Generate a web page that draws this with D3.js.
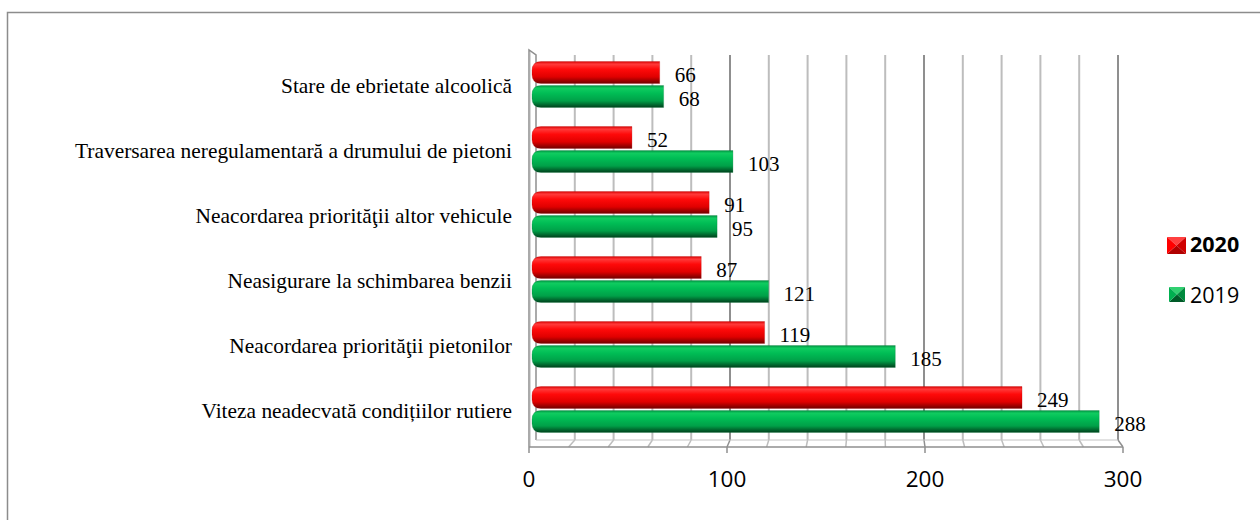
<!DOCTYPE html>
<html><head><meta charset="utf-8">
<script src="https://cdn.jsdelivr.net/npm/d3@7"></script>
<style>body{margin:0;background:#fff}svg{display:block}</style>
</head><body>
<svg id="c" width="1260" height="520"></svg>
<script>
const categories = [
  "Stare de ebrietate alcoolică",
  "Traversarea neregulamentară a drumului de pietoni",
  "Neacordarea priorităţii altor vehicule",
  "Neasigurare la schimbarea benzii",
  "Neacordarea priorităţii pietonilor",
  "Viteza neadecvată condițiilor rutiere"
];
const values2020 = [66, 52, 91, 87, 119, 249];
const values2019 = [68, 103, 95, 121, 185, 288];
const seriesNames = ["2020", "2019"];
const xTicks = [0, 100, 200, 300];
const gridTicks = d3.range(0, 301, 20);

const svg = d3.select("#c");
const defs = svg.append("defs");
function grad(id, stops){
  const g = defs.append("linearGradient").attr("id", id).attr("x1",0).attr("y1",0).attr("x2",0).attr("y2",1);
  stops.forEach(s => g.append("stop").attr("offset", s[0]).attr("stop-color", s[1]));
}
grad("gRed", [[0,"#d80000"],[0.12,"#ff3a3a"],[0.35,"#ff0a0a"],[0.7,"#e00000"],[1,"#700000"]]);
grad("gGreen", [[0,"#009040"],[0.12,"#10cc60"],[0.35,"#00bd55"],[0.7,"#00a048"],[1,"#00401c"]]);

// outer frame
svg.append("rect").attr("x",7.5).attr("y",12.5).attr("width",1300).attr("height",600)
  .attr("fill","none").attr("stroke","#8c8c8c").attr("stroke-width",1.5);

const xF = d3.scaleLinear().domain([0,300]).range([529,1123]);   // front edge
const xB = d3.scaleLinear().domain([0,300]).range([536,1118]);   // back wall
const yTopB = 55, yBotB = 440, yTopF = 50, yBotF = 447;
const y = d3.scaleBand().domain(categories).range([52, 442]);

const grid = svg.append("g");
gridTicks.forEach(t => {
  const major = t % 100 === 0;
  if (t === 0) return;
  grid.append("line").attr("x1", xB(t)).attr("x2", xB(t)).attr("y1", yTopB).attr("y2", yBotB)
    .attr("stroke", major ? "#8f8f8f" : "#bdbdbd").attr("stroke-width", 2);
  grid.append("line").attr("x1", xB(t)).attr("x2", xF(t)).attr("y1", yBotB).attr("y2", yBotF)
    .attr("stroke", major ? "#8f8f8f" : "#bdbdbd").attr("stroke-width", 1.5);
});
grid.append("path").attr("d", `M${xF(0)},${yBotF}L${xF(0)},${yTopF}L${xB(0)},${yTopB}L${xB(0)},${yBotB}`)
  .attr("fill","none").attr("stroke","#8f8f8f").attr("stroke-width",1.5);
grid.append("line").attr("x1", xF(0)+1.5).attr("x2", xF(0)+1.5).attr("y1", yTopF+2).attr("y2", yBotF)
  .attr("stroke","#d8d8d8").attr("stroke-width",1);
grid.append("line").attr("x1", xF(0)).attr("x2", xF(300)).attr("y1", yBotF).attr("y2", yBotF)
  .attr("stroke","#8f8f8f").attr("stroke-width",1.5);
grid.append("line").attr("x1", xB(0)).attr("x2", xB(300)).attr("y1", yBotB).attr("y2", yBotB)
  .attr("stroke","#c4c4c4").attr("stroke-width",1);
xTicks.forEach(t => {
  grid.append("line").attr("x1", xF(t)).attr("x2", xF(t)).attr("y1", yBotF).attr("y2", yBotF+6)
    .attr("stroke","#8f8f8f").attr("stroke-width",1.5);
});
svg.append("g").selectAll("text").data(xTicks).join("text")
  .attr("x", d => xF(d)).attr("y", 487).attr("text-anchor","middle")
  .attr("font-family","'Open Sans', sans-serif").attr("font-size",22.5).attr("fill","#000")
  .text(d => d);

const barH = 22;
function barPath(x0, x1, yy, h){
  const r = Math.min(9, (x1-x0)/2);
  return `M${x0+r},${yy}L${x1},${yy}L${x1},${yy+h}L${x0+r},${yy+h}Q${x0},${yy+h} ${x0},${yy+h-r}L${x0},${yy+r}Q${x0},${yy} ${x0+r},${yy}Z`;
}
const groups = svg.append("g");
categories.forEach((c, i) => {
  const cy = y(c) + y.bandwidth()/2;
  const rows = [
    {v: values2020[i], top: cy - barH - 1, fill: "url(#gRed)", stroke:"#b00000"},
    {v: values2019[i], top: cy + 1, fill: "url(#gGreen)", stroke:"#007a36"}
  ];
  rows.forEach(r => {
    groups.append("path").attr("d", barPath(xF(0)+3, xF(r.v), r.top, barH))
      .attr("fill", r.fill).attr("stroke", r.stroke).attr("stroke-width", 0.5).attr("stroke-opacity",0.5);
    groups.append("text").attr("x", xF(r.v) + 15).attr("y", r.top + barH/2 + 9)
      .attr("font-family","'Liberation Serif', 'Times New Roman', serif").attr("font-size",21).attr("fill","#000")
      .text(r.v);
  });
  svg.append("text").attr("x", 512).attr("y", cy + 8).attr("text-anchor","end")
    .attr("font-family","'Liberation Serif', 'Times New Roman', serif").attr("font-size",21.4).attr("fill","#000")
    .text(c);
});

const leg = svg.append("g");
const legItems = [
  {name: seriesNames[0], x:1167, y:237, w:19, h:17, c1:"#ff4040", c2:"#ff0000", c3:"#b00000", c4:"#d00000", bold:true, ty:252},
  {name: seriesNames[1], x:1169, y:287, w:16, h:15, c1:"#30d070", c2:"#00b050", c3:"#005a28", c4:"#008a3e", bold:false, ty:303}
];
legItems.forEach(d => {
  const cx = d.x + d.w/2, cy = d.y + d.h/2;
  const pts = [[d.x,d.y],[d.x+d.w,d.y],[d.x+d.w,d.y+d.h],[d.x,d.y+d.h]];
  const cols = [d.c1, d.c4, d.c3, d.c2];
  for (let k=0;k<4;k++){
    const a = pts[k], b = pts[(k+1)%4];
    leg.append("path").attr("d", `M${a[0]},${a[1]}L${b[0]},${b[1]}L${cx},${cy}Z`).attr("fill", cols[k]);
  }
  leg.append("text").attr("x", 1190).attr("y", d.ty)
    .attr("font-family","'Open Sans', sans-serif").attr("font-size",21.5)
    .attr("font-weight", d.bold ? "bold" : "normal").attr("fill","#000").text(d.name);
});
</script>
</body></html>
